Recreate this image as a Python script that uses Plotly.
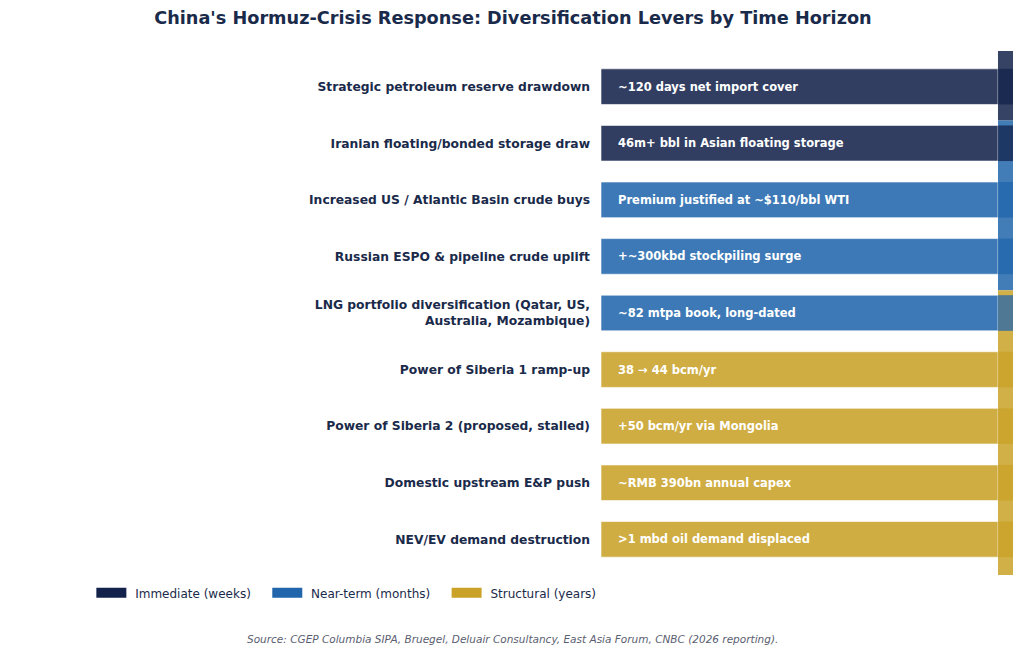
import plotly.graph_objects as go

# levers, top to bottom
levers = [
    "Strategic petroleum reserve drawdown",
    "Iranian floating/bonded storage draw",
    "Increased US / Atlantic Basin crude buys",
    "Russian ESPO & pipeline crude uplift",
    "LNG portfolio diversification (Qatar, US,<br>Australia, Mozambique)",
    "Power of Siberia 1 ramp-up",
    "Power of Siberia 2 (proposed, stalled)",
    "Domestic upstream E&P push",
    "NEV/EV demand destruction",
]
horizons = ["Immediate", "Immediate", "Near-term", "Near-term", "Near-term",
            "Structural", "Structural", "Structural", "Structural"]
notes = [
    "~120 days net import cover",
    "46m+ bbl in Asian floating storage",
    "Premium justified at ~$110/bbl WTI",
    "+~300kbd stockpiling surge",
    "~82 mtpa book, long-dated",
    "38 → 44 bcm/yr",
    "+50 bcm/yr via Mongolia",
    "~RMB 390bn annual capex",
    ">1 mbd oil demand displaced",
]
values = [1, 1, 1, 1, 1, 1, 1, 1, 1]

horizon_names = ["Immediate", "Near-term", "Structural"]
legend_names = ["Immediate (weeks)", "Near-term (months)", "Structural (years)"]
horizon_colors = {"Immediate": "#13224a", "Near-term": "#2166ac", "Structural": "#c9a227"}

ink = "#1a2a4a"
fnt = "DejaVu Sans"
ids = list(range(len(levers)))
bar_w = 0.63

fig = go.Figure()

# bars, one trace per horizon (overlay so they sit on the category rows)
for h in horizon_names:
    yy = [i for i in ids if horizons[i] == h]
    fig.add_trace(go.Bar(
        x=[values[i] for i in yy], y=yy, orientation="h",
        width=bar_w, opacity=0.87,
        marker=dict(color=horizon_colors[h], line=dict(color="rgba(255,255,255,0.6)", width=1)),
        showlegend=False, hoverinfo="skip",
    ))

# legend only entries, full colour, wide swatch
for h, name in zip(horizon_names, legend_names):
    fig.add_trace(go.Scatter(x=[None], y=[None], mode="lines", name="&nbsp;" + name + "&nbsp;" * 3,
                             line=dict(color=horizon_colors[h], width=10)))

# note text inside each bar
for i in ids:
    fig.add_annotation(x=0, y=i, text="<b>%s</b>" % notes[i], showarrow=False,
                       xanchor="left", xshift=15, font=dict(family=fnt, size=11.5, color="white"))

# horizon strip on the right edge
xmax = 1.0378
strip = [("Immediate", -0.63, 0.6), ("Near-term", 0.6, 3.6), ("Structural", 3.6, 8.63)]
for h, y0, y1 in strip:
    fig.add_shape(type="rect", xref="x", yref="y", x0=1.0, x1=xmax, y0=y0, y1=y1,
                  fillcolor=horizon_colors[h], opacity=0.85, line=dict(width=0), layer="below")
# bars run on under the strip, so it looks darker where they cross
for i in ids:
    fig.add_shape(type="rect", xref="x", yref="y", x0=values[i], x1=xmax,
                  y0=i - bar_w / 2, y1=i + bar_w / 2,
                  fillcolor=horizon_colors[horizons[i]], opacity=0.75, line=dict(width=0))

# page body has an 8px margin, so the figure is sized 8px smaller
fig.update_layout(
    width=1016, height=648,
    margin=dict(l=593, r=11, t=43, b=81),
    paper_bgcolor="white", plot_bgcolor="white",
    barmode="overlay",
    font=dict(family=fnt, color=ink),
    title=dict(text="<b>China's Hormuz-Crisis Response: Diversification Levers by Time Horizon</b>",
               x=0.497, xanchor="center", y=0.985, yanchor="middle",
               font=dict(family=fnt, size=17.7, color=ink)),
    xaxis=dict(range=[0, xmax], visible=False, fixedrange=True),
    yaxis=dict(range=[8.63, -0.63], tickmode="array", tickvals=ids,
               ticktext=["<b>%s</b>" % t for t in levers],
               tickfont=dict(family=fnt, size=12.3, color=ink),
               ticks="", showgrid=False, zeroline=False, showline=False, ticklabelstandoff=10),
    legend=dict(orientation="h", x=-1.237, xanchor="left", y=-0.034, yanchor="middle",
                font=dict(family=fnt, size=12, color=ink), bgcolor="rgba(0,0,0,0)",
                itemwidth=30, traceorder="normal"),
    annotations=list(fig.layout.annotations) + [
        dict(text="<i>Source: CGEP Columbia SIPA, Bruegel, Deluair Consultancy, East Asia Forum, CNBC (2026 reporting).</i>",
             xref="paper", yref="paper", x=-0.215, y=-0.122, xanchor="center", yanchor="middle",
             showarrow=False, font=dict(family=fnt, size=10.5, color="#5a6070")),
    ],
)

fig.write_html("out.html")
